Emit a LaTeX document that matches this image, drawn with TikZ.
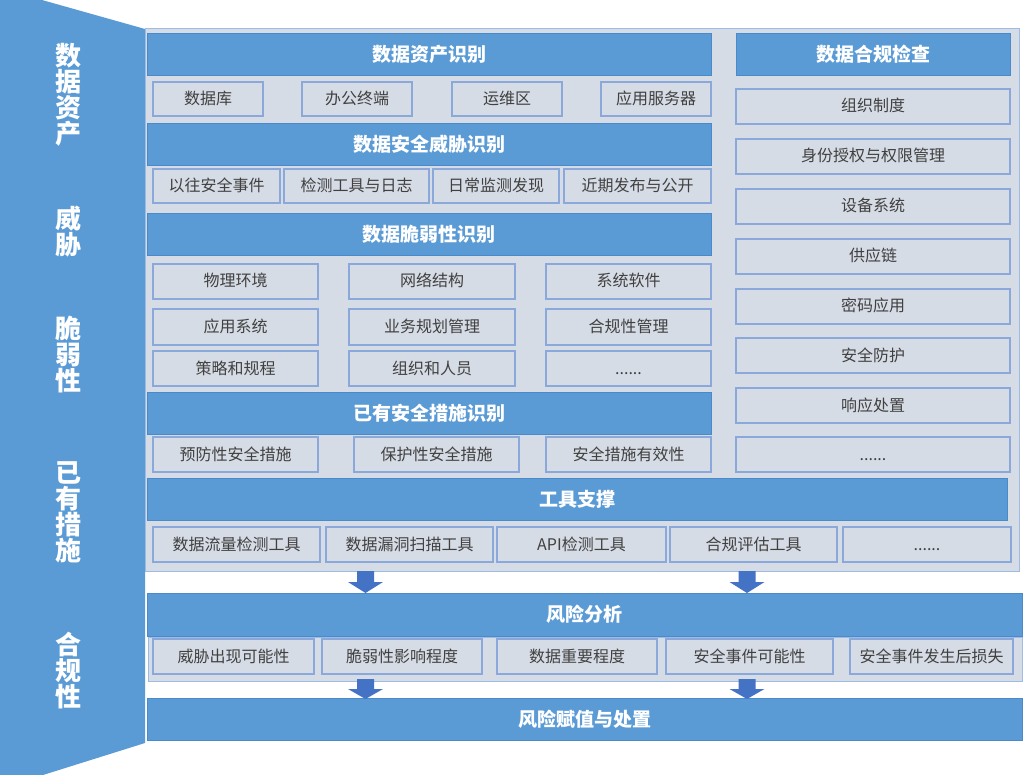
\documentclass[tikz,border=0pt]{standalone}
\usepackage{fontspec}
\newfontfamily\cjk{Noto Sans CJK SC}
\definecolor{hblue}{HTML}{5B9BD5}
\definecolor{hedge}{HTML}{4A89CC}
\definecolor{pfill}{HTML}{D6DCE5}
\definecolor{pedge}{HTML}{9DBCE3}
\definecolor{iedge}{HTML}{8AA8DA}
\definecolor{itext}{HTML}{404040}
\definecolor{ablue}{HTML}{4472C4}
\newcommand\mkbox[7]{\node[#1,minimum width={(#4)-(#2)},minimum height={(#5)-(#3)}] (#6) at ({((#2)+(#4))/2},{((#3)+(#5))/2}) {#7};}
\newcommand\blockarrow[3]{\fill[ablue] ({#1-8.5},#2) -- ({#1+8.5},#2) -- ({#1+8.5},{#2+(#3-#2)*0.5}) -- ({#1+17.5},{#2+(#3-#2)*0.5}) -- (#1,#3) -- ({#1-17.5},{#2+(#3-#2)*0.5}) -- ({#1-8.5},{#2+(#3-#2)*0.5}) -- cycle;}
\begin{document}
\begin{tikzpicture}[x=1pt,y=-1pt,
  every node/.style={inner sep=0pt,outer sep=0pt},
  panel/.style={draw=pedge,fill=pfill,line width=1pt},
  hdr/.style={draw=hedge,fill=hblue,line width=0.8pt,text=white,font=\cjk\bfseries\fontsize{19}{22}\selectfont},
  itm/.style={draw=iedge,fill=pfill,line width=1.2pt,text=itext,text height=13pt,text depth=2pt,font=\cjk\fontsize{16}{18}\selectfont},
  side/.style={text=white,align=center,font=\cjk\bfseries\fontsize{26}{26}\selectfont}]
\useasboundingbox (0,0) rectangle (1024,775);
\fill[white] (0,0) rectangle (1024,775);
% left band
\fill[hblue] (0,0) -- (42,0) -- (145,29) -- (145,743) -- (43,775) -- (0,775) -- cycle;
\node[side] (s1) at (68,95) {数\\据\\资\\产};
\node[side] (s2) at (68,232) {威\\胁};
\node[side] (s3) at (68,355) {脆\\弱\\性};
\node[side] (s4) at (68,512) {已\\有\\措\\施};
\node[side] (s5) at (68,671) {合\\规\\性};
% main panel
\mkbox{panel}{145}{29}{1019}{571}{pnl}{}
% headers
\mkbox{hdr}{147}{33}{711}{75}{h1}{数据资产识别}
\mkbox{hdr}{147}{123}{711}{165}{h2}{数据安全威胁识别}
\mkbox{hdr}{147}{213}{711}{255}{h3}{数据脆弱性识别}
\mkbox{hdr}{147}{392}{711}{434}{h4}{已有安全措施识别}
\mkbox{hdr}{736}{33}{1010}{75}{hc}{数据合规检查}
\mkbox{hdr}{147}{478}{1007}{520}{ht}{工具支撑}
\mkbox{hdr}{147}{593}{1022}{636}{hr}{风险分析}
\mkbox{hdr}{147}{698}{1022}{740}{hv}{风险赋值与处置}
% assets
\mkbox{itm}{153}{82}{263}{116}{a1}{数据库}
\mkbox{itm}{302}{82}{412}{116}{a2}{办公终端}
\mkbox{itm}{452}{82}{562}{116}{a3}{运维区}
\mkbox{itm}{601}{82}{711}{116}{a4}{应用服务器}
% threats
\mkbox{itm}{153}{169}{280}{203}{t1}{以往安全事件}
\mkbox{itm}{284}{169}{429}{203}{t2}{检测工具与日志}
\mkbox{itm}{433}{169}{559}{203}{t3}{日常监测发现}
\mkbox{itm}{564}{169}{711}{203}{t4}{近期发布与公开}
% vulnerabilities
\mkbox{itm}{153}{264}{318}{299}{v11}{物理环境}
\mkbox{itm}{349}{264}{515}{299}{v12}{网络结构}
\mkbox{itm}{546}{264}{711}{299}{v13}{系统软件}
\mkbox{itm}{153}{309}{318}{345}{v21}{应用系统}
\mkbox{itm}{349}{309}{515}{345}{v22}{业务规划管理}
\mkbox{itm}{546}{309}{711}{345}{v23}{合规性管理}
\mkbox{itm}{153}{351}{318}{386}{v31}{策略和规程}
\mkbox{itm}{349}{351}{515}{386}{v32}{组织和人员}
\mkbox{itm}{546}{351}{711}{386}{v33}{......}
% measures
\mkbox{itm}{153}{437}{318}{472}{m1}{预防性安全措施}
\mkbox{itm}{354}{437}{519}{472}{m2}{保护性安全措施}
\mkbox{itm}{546}{437}{711}{472}{m3}{安全措施有效性}
% compliance column
\mkbox{itm}{736}{89}{1010}{124}{c1}{组织制度}
\mkbox{itm}{736}{139}{1010}{174}{c2}{身份授权与权限管理}
\mkbox{itm}{736}{189}{1010}{224}{c3}{设备系统}
\mkbox{itm}{736}{239}{1010}{274}{c4}{供应链}
\mkbox{itm}{736}{289}{1010}{324}{c5}{密码应用}
\mkbox{itm}{736}{338}{1010}{373}{c6}{安全防护}
\mkbox{itm}{736}{388}{1010}{423}{c7}{响应处置}
\mkbox{itm}{736}{437}{1010}{472}{c8}{......}
% tools
\mkbox{itm}{153}{527}{320}{562}{g1}{数据流量检测工具}
\mkbox{itm}{326}{527}{493}{562}{g2}{数据漏洞扫描工具}
\mkbox{itm}{497}{527}{666}{562}{g3}{API检测工具}
\mkbox{itm}{670}{527}{837}{562}{g4}{合规评估工具}
\mkbox{itm}{843}{527}{1011}{562}{g5}{......}
% risk analysis strip
\mkbox{panel}{148}{637}{1022}{681}{rs}{}
\mkbox{itm}{153}{639}{314}{674}{r1}{威胁出现可能性}
\mkbox{itm}{322}{639}{482}{674}{r2}{脆弱性影响程度}
\mkbox{itm}{497}{639}{657}{674}{r3}{数据重要程度}
\mkbox{itm}{666}{639}{833}{674}{r4}{安全事件可能性}
\mkbox{itm}{850}{639}{1013}{674}{r5}{安全事件发生后损失}
% block arrows
\blockarrow{365.5}{571}{593}
\blockarrow{747}{571}{593}
\blockarrow{365.5}{679}{699}
\blockarrow{747}{679}{699}
\end{tikzpicture}
\end{document}
